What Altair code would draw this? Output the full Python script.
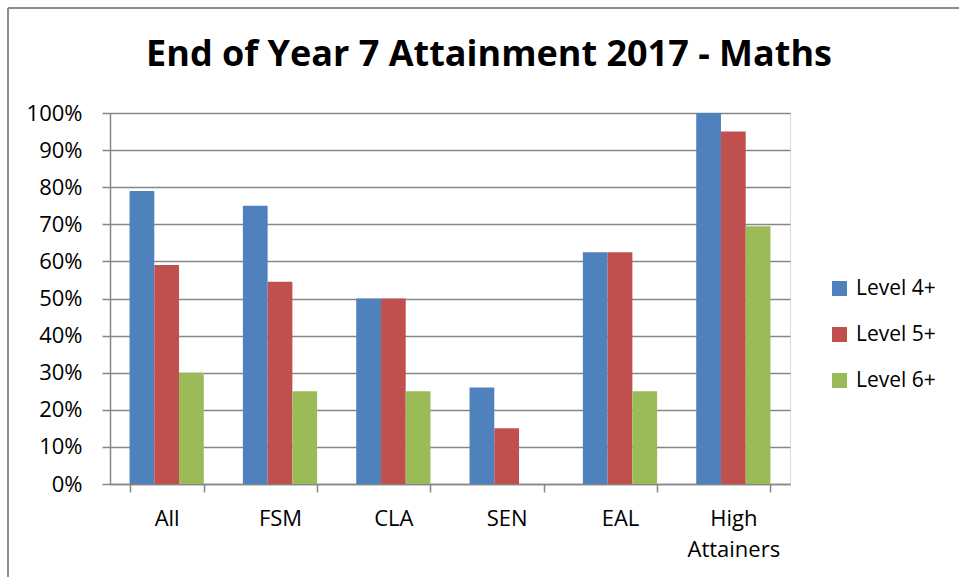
import altair as alt
import pandas as pd

categories = ["All", "FSM", "CLA", "SEN", "EAL", "High Attainers"]
levels = ["Level 4+", "Level 5+", "Level 6+"]
level4 = [79, 75, 50, 26, 62.5, 100]
level5 = [59, 54.5, 50, 15, 62.5, 95]
level6 = [30, 25, 25, 0, 25, 69.5]
colors = ["#4F81BD", "#C0504D", "#9BBB59"]
y_ticks = [0, 0.1, 0.2, 0.3, 0.4, 0.5, 0.6, 0.7, 0.8, 0.9, 1.0]

rows = []
for lvl, vals in zip(levels, [level4, level5, level6]):
    for c, v in zip(categories, vals):
        rows.append({"Group": c, "Level": lvl, "Value": v / 100})
df = pd.DataFrame(rows)

FONT = "Open Sans"
GRAY = "#868686"

bars = alt.Chart(df).mark_bar().encode(
    x=alt.X(
        "Group:N",
        sort=categories,
        scale=alt.Scale(paddingInner=0.345, paddingOuter=0.1725),
        axis=alt.Axis(
            title=None,
            labelAngle=0,
            tickBand="extent",
            tickSize=8,
            tickColor=GRAY,
            tickWidth=1.5,
            domainColor=GRAY,
            domainWidth=1.5,
            labelFont=FONT,
            labelFontSize=22,
            labelColor="black",
            labelPadding=16,
            labelBaseline="top",
            labelLineHeight=31,
            labelExpr="datum.value == 'High Attainers' ? ['High', 'Attainers'] : datum.value",
        ),
    ),
    xOffset=alt.XOffset("Level:N", sort=levels, scale=alt.Scale(paddingInner=0, paddingOuter=0)),
    y=alt.Y(
        "Value:Q",
        scale=alt.Scale(domain=[0, 1], nice=False),
        axis=alt.Axis(
            title=None,
            format=".0%",
            values=y_ticks,
            grid=True,
            gridColor=GRAY,
            gridWidth=1.5,
            tickSize=8,
            tickColor=GRAY,
            tickWidth=1.5,
            domainColor=GRAY,
            domainWidth=1.5,
            labelFont=FONT,
            labelFontSize=22,
            labelColor="black",
            labelPadding=20,
        ),
    ),
    color=alt.Color(
        "Level:N",
        sort=levels,
        scale=alt.Scale(domain=levels, range=colors),
        legend=alt.Legend(
            title=None,
            orient="none",
            legendX=719,
            legendY=165,
            symbolType="square",
            symbolSize=225,
            symbolStrokeWidth=0,
            labelFont=FONT,
            labelFontSize=21,
            labelColor="black",
            labelOffset=6,
            rowPadding=24,
            padding=0,
        ),
    ),
)

border_top = alt.Chart(df).mark_rule(color="#8c8c8c", strokeWidth=1.5).encode(
    x=alt.value(-102), x2=alt.value(900), y=alt.value(-105)
)
border_left = alt.Chart(df).mark_rule(color="#8c8c8c", strokeWidth=1.5).encode(
    x=alt.value(-102), y=alt.value(-105), y2=alt.value(500)
)

chart = (
    alt.layer(bars, border_top, border_left)
    .properties(
        width=680,
        height=371,
        title=alt.TitleParams(
            "End of Year 7 Attainment 2017 - Maths",
            font=FONT,
            fontSize=36,
            fontWeight="bold",
            color="black",
            anchor="middle",
            dx=39,
            offset=-95,
            baseline="alphabetic",
        ),
        autosize=alt.AutoSizeParams(type="none"),
        padding={"left": 110, "top": 113, "right": 169, "bottom": 93},
    )
    .configure_view(stroke=None)
    .configure(background="white")
)

chart.save("out.html", embed_options={"renderer": "svg", "actions": False})
